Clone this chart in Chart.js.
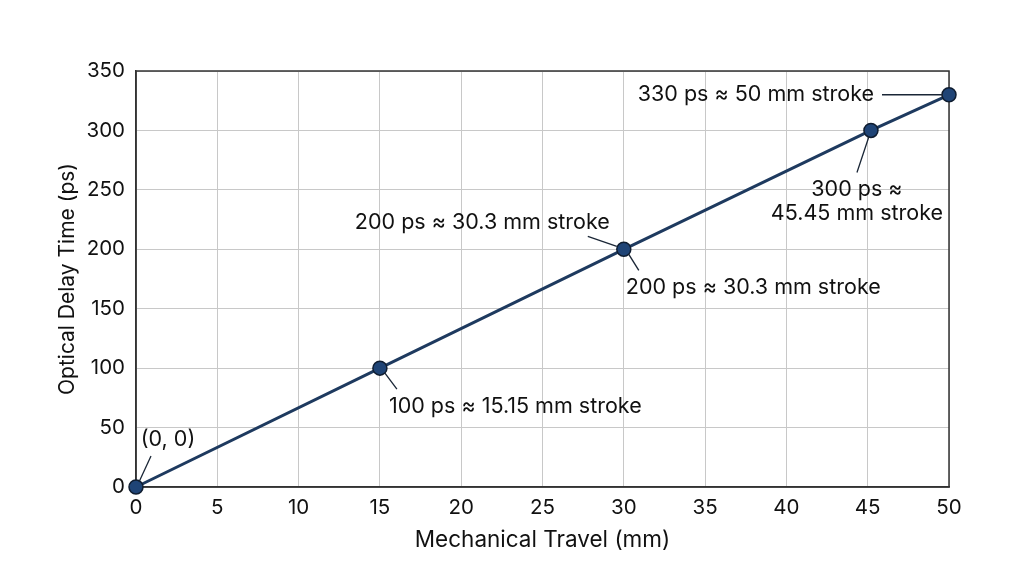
<!DOCTYPE html>
<html>
<head>
<meta charset="utf-8">
<script src="https://cdn.jsdelivr.net/npm/chart.js@4.4.0/dist/chart.umd.min.js"></script>
<style>
  html, body { margin: 0; padding: 0; background: #fff; }
  #wrap { width: 1024px; height: 577px; }
</style>
</head>
<body>
<div id="wrap"><canvas id="chart" width="1024" height="577"></canvas></div>
<script>
// data
const travelMm = [0, 15, 30, 45.2, 50];
const delayPs = [0, 100, 200, 300, 330];
const xTicks = [0, 5, 10, 15, 20, 25, 30, 35, 40, 45, 50];
const yTicks = [0, 50, 100, 150, 200, 250, 300, 350];
const noteText = [
  ["(0, 0)"],
  ["100 ps ≈ 15.15 mm stroke"],
  ["200 ps ≈ 30.3 mm stroke"],
  ["200 ps ≈ 30.3 mm stroke"],
  ["300 ps ≈", "45.45 mm stroke"],
  ["330 ps ≈ 50 mm stroke"],
];
const notePoint = [0, 1, 2, 2, 3, 4];

// label placement (pixels, relative to the point)
const noteStyle = [
  { dx: 32, dy: -47, align: "center", lead: [3, -5, 15, -31] },
  { dx: 9, dy: 38, align: "left", lead: [5, 5, 17, 21] },
  { dx: -14, dy: -27, align: "right", lead: [-36, -13, -7, -3] },
  { dx: 2, dy: 38, align: "left", lead: [5, 5, 15, 21] },
  { dx: -14, dy: 59, align: "center", lead: [-2, 6, -14, 42] },
  { dx: -75, dy: 0, align: "right", lead: [-67, 0, -6, 0] },
];

const FONT = "Inter, 'Open Sans', sans-serif";
const ink = "#111";

const notesPlugin = {
  id: "notes",
  beforeDatasetsDraw(chart) {
    const { ctx, chartArea: a } = chart;
    ctx.save();
    ctx.strokeStyle = "#333";
    ctx.lineWidth = 1.5;
    ctx.strokeRect(a.left, a.top, a.right - a.left, a.bottom - a.top);
    ctx.restore();
  },
  afterDatasetsDraw(chart) {
    const { ctx, scales } = chart;
    ctx.save();
    noteText.forEach((lines, k) => {
      const i = notePoint[k];
      const s = noteStyle[k];
      const px = scales.x.getPixelForValue(travelMm[i]);
      const py = scales.y.getPixelForValue(delayPs[i]);
      ctx.strokeStyle = "#1a2636";
      ctx.lineWidth = 1.3;
      ctx.beginPath();
      ctx.moveTo(px + s.lead[0], py + s.lead[1]);
      ctx.lineTo(px + s.lead[2], py + s.lead[3]);
      ctx.stroke();
      ctx.fillStyle = ink;
      ctx.font = "21.5px " + FONT;
      ctx.textAlign = s.align;
      ctx.textBaseline = "middle";
      lines.forEach((t, j) => {
        ctx.fillText(t, px + s.dx, py + s.dy + j * 24);
      });
    });
    ctx.restore();
  },
};

new Chart(document.getElementById("chart"), {
  type: "scatter",
  data: {
    datasets: [
      {
        data: travelMm.map((x, i) => ({ x: x, y: delayPs[i] })),
        showLine: true,
        clip: false,
        borderColor: "#1e3a5f",
        borderWidth: 3,
        pointRadius: 7,
        pointBackgroundColor: "#1f4476",
        pointBorderColor: "#0f1d30",
        pointBorderWidth: 1.5,
      },
    ],
  },
  options: {
    responsive: false,
    animation: false,
    devicePixelRatio: 1,
    layout: { padding: { top: 71, right: 75, left: 0, bottom: 0 } },
    plugins: { legend: { display: false }, tooltip: { enabled: false } },
    scales: {
      x: {
        type: "linear",
        min: 0,
        max: 50,
        afterBuildTicks: (s) => { s.ticks = xTicks.map((v) => ({ value: v })); },
        afterFit: (s) => { s.height = 90; },
        grid: { color: "#c8c8c8", drawTicks: false },
        border: { color: "#333", width: 1.5 },
        ticks: { color: ink, padding: 9, font: { family: FONT, size: 20.5 } },
        title: {
          display: true,
          text: "Mechanical Travel (mm)",
          color: ink,
          padding: { top: 23, bottom: 23 },
          font: { family: FONT, size: 22.5 },
        },
      },
      y: {
        type: "linear",
        min: 0,
        max: 350,
        afterBuildTicks: (s) => { s.ticks = yTicks.map((v) => ({ value: v })); },
        afterFit: (s) => { s.width = 136; },
        grid: { color: "#c8c8c8", drawTicks: false },
        border: { color: "#333", width: 1.5 },
        ticks: { color: ink, padding: 11, font: { family: FONT, size: 20.5 } },
        title: {
          display: true,
          text: "Optical Delay Time (ps)",
          color: ink,
          padding: { top: 55, bottom: 55 },
          font: { family: FONT, size: 21 },
        },
      },
    },
  },
  plugins: [notesPlugin],
});
</script>
</body>
</html>
